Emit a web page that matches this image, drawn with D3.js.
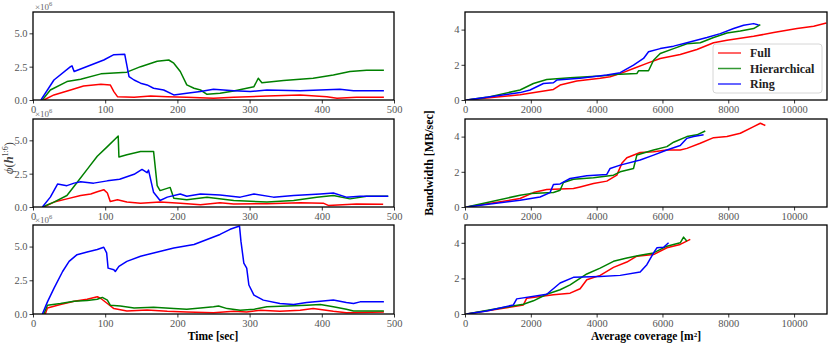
<!DOCTYPE html>
<html><head><meta charset="utf-8">
<script src="https://cdn.jsdelivr.net/npm/d3@7"></script>
<style>body{margin:0;background:#fff}svg{display:block}</style>
</head><body>
<svg id="c" width="831" height="343"></svg>
<script>
// ---------- DATA ----------
const seriesNames = ["Full", "Hierarchical", "Ring"];
const seriesColors = ["#ff0000", "#008000", "#0000ff"];
const timeTicks = [0, 100, 200, 300, 400, 500];
const phiTicks = [0, 2.5, 5.0];
const covTicks = [0, 2000, 4000, 6000, 8000, 10000];
const bwTicks = [0, 2, 4];

// Left column: phi (x10^6) vs time [sec]  -- [t, value]
const phi1Full = [[15,0],[29,0.38],[52,0.75],[70,1.05],[94,1.18],[107,1.13],[112,0.63],[117,0.25],[140,0.2],[163,0.3],[186,0.25],[213,0.2],[250,0.13],[278,0.2],[324,0.3],[370,0.38],[407,0.25],[421,0.13],[448,0.2],[486,0.2]];
const phi1Hier = [[13,0],[24,0.75],[47,1.38],[66,1.56],[94,1.96],[130,2.09],[149,2.5],[172,2.9],[188,3.0],[195,2.76],[204,2.14],[213,1.13],[223,0.88],[232,0.75],[241,0.43],[259,0.5],[278,0.68],[296,0.88],[306,1.0],[312,1.63],[317,1.3],[347,1.46],[388,1.63],[416,1.88],[439,2.14],[462,2.24],[486,2.24]];
const phi1Ring = [[11,0],[29,1.5],[52,2.5],[54,2.56],[57,2.14],[98,3.0],[112,3.4],[127,3.44],[133,1.76],[140,1.5],[149,1.26],[158,1.13],[167,0.88],[181,0.75],[195,0.38],[213,0.5],[232,0.63],[250,0.8],[278,0.7],[301,0.63],[324,0.75],[370,0.7],[425,0.8],[444,0.7],[486,0.7]];

const phi2Full = [[15,0],[29,0.37],[47,0.61],[66,0.86],[80,0.98],[89,1.15],[98,1.3],[103,1.05],[107,0.42],[117,0.54],[130,0.37],[149,0.29],[176,0.37],[204,0.29],[232,0.17],[259,0.32],[278,0.22],[324,0.25],[370,0.32],[402,0.29],[409,0.12],[448,0.22],[485,0.2]];
const phi2Hier = [[13,0],[29,0.37],[47,0.86],[61,1.84],[75,2.82],[89,3.8],[103,4.53],[117,5.27],[118,5.32],[119,3.75],[130,3.92],[149,4.17],[167,4.17],[172,1.6],[176,1.23],[190,1.47],[195,0.66],[213,0.54],[241,0.74],[278,0.49],[324,0.37],[361,0.49],[393,0.74],[416,0.86],[439,0.61],[462,0.81],[492,0.81]];
const phi2Ring = [[13,0],[24,0.74],[34,1.72],[47,1.6],[57,1.79],[66,1.89],[84,1.79],[103,1.96],[120,2.08],[140,2.45],[151,2.82],[158,2.57],[160,2.77],[167,1.1],[176,0.49],[186,0.74],[204,0.98],[213,0.81],[232,0.98],[259,0.9],[287,0.74],[306,0.98],[333,0.74],[361,0.86],[398,0.98],[416,1.05],[434,0.74],[453,0.81],[492,0.81]];

const phi3Full = [[17,0],[20,0.45],[38,0.7],[57,0.95],[75,1.1],[89,1.28],[94,1.15],[103,0.78],[112,0.4],[130,0.23],[158,0.3],[186,0.2],[213,0.15],[250,0.1],[278,0.2],[296,0.15],[315,0.28],[342,0.2],[370,0.28],[388,0.4],[416,0.2],[434,0.1],[486,0.15]];
const phi3Hier = [[15,0],[20,0.65],[38,0.78],[57,0.95],[75,1.0],[89,1.1],[96,1.23],[103,1.03],[107,0.65],[121,0.6],[140,0.45],[167,0.5],[195,0.4],[213,0.35],[232,0.45],[250,0.53],[257,0.6],[269,0.4],[287,0.28],[306,0.35],[324,0.53],[352,0.6],[379,0.65],[398,0.7],[416,0.53],[434,0.35],[444,0.23],[486,0.23]];
const phi3Ring = [[13,0],[20,0.9],[29,1.9],[41,3.15],[50,3.9],[61,4.4],[75,4.6],[89,4.78],[98,4.95],[102,4.53],[104,3.4],[112,3.28],[114,3.15],[119,3.53],[130,3.9],[149,4.28],[167,4.53],[195,4.9],[223,5.15],[241,5.53],[259,5.9],[273,6.28],[282,6.45],[286,6.53],[288,5.4],[292,3.78],[296,3.4],[299,2.15],[306,1.4],[319,1.03],[342,0.78],[361,0.7],[379,0.85],[398,0.95],[416,1.03],[434,0.85],[444,0.78],[453,0.9],[486,0.9]];

// Right column: bandwidth [MB/sec] vs average coverage [m^2] -- [coverage, bw]
const bw1Full = [[50,0],[1673,0.3],[2687,0.6],[2890,0.85],[3397,1.08],[4107,1.23],[4410,1.32],[4715,1.5],[5120,1.79],[5526,2.08],[5932,2.36],[6540,2.58],[7047,2.87],[7554,3.25],[7960,3.4],[8771,3.62],[9380,3.83],[10090,4.06],[10596,4.19],[10981,4.38]];
const bw1Hier = [[50,0],[659,0.15],[1673,0.57],[2079,0.94],[2484,1.17],[3194,1.26],[4107,1.36],[4715,1.47],[5222,1.5],[5273,1.66],[5577,1.66],[5729,2.26],[5932,2.64],[6338,2.92],[6743,3.2],[7149,3.25],[7554,3.55],[7960,3.81],[8366,3.92],[8771,4.06],[8974,4.28]];
const bw1Ring = [[50,0],[659,0.15],[1673,0.42],[1977,0.57],[2383,0.94],[2687,0.98],[2789,1.13],[3498,1.23],[4309,1.42],[4715,1.55],[5120,1.98],[5425,2.36],[5577,2.74],[5932,2.92],[6338,3.06],[6743,3.25],[7352,3.55],[7757,3.77],[8163,4.06],[8467,4.25],[8771,4.34],[8923,4.26]];

const bw2Full = [[50,0],[1673,0.48],[2079,0.82],[2484,0.99],[3295,1.05],[3498,1.14],[3904,1.33],[4309,1.47],[4614,1.81],[4766,2.48],[4918,2.8],[5323,3.1],[5729,3.14],[6135,3.24],[6540,3.24],[6743,3.33],[7149,3.62],[7554,3.94],[7960,4.0],[8366,4.19],[8771,4.57],[8974,4.76],[9126,4.63]];
const bw2Hier = [[50,0],[1673,0.67],[1977,0.76],[2687,0.82],[2890,0.95],[2991,1.39],[3295,1.58],[3904,1.66],[4512,1.81],[4715,2.0],[5120,2.19],[5222,2.95],[5729,3.24],[6135,3.43],[6338,3.68],[6743,4.0],[7047,4.1],[7301,4.32]];
const bw2Ring = [[50,0],[1673,0.38],[2281,0.57],[2585,0.82],[2687,1.28],[2890,1.31],[3194,1.62],[3701,1.77],[4309,1.85],[4410,2.19],[4715,2.38],[5323,2.67],[5729,2.95],[6135,3.24],[6540,3.49],[6743,3.9],[6946,4.0],[7250,4.1]];

const bw3Full = [[50,0],[1166,0.32],[1775,0.51],[1876,0.89],[2687,1.08],[3194,1.17],[3498,1.42],[3701,1.92],[4107,2.17],[4512,2.62],[4918,2.92],[5222,3.25],[5729,3.34],[6135,3.72],[6540,3.91],[6845,4.19]];
const bw3Hier = [[50,0],[1166,0.36],[1775,0.55],[2079,0.74],[2484,1.11],[2890,1.36],[3194,1.64],[3701,2.25],[4107,2.58],[4512,2.96],[4918,3.15],[5323,3.3],[5729,3.43],[6135,3.81],[6540,4.0],[6642,4.32],[6743,4.09]];
const bw3Ring = [[50,0],[659,0.17],[1470,0.51],[1572,0.85],[2484,1.11],[2890,1.74],[3295,2.06],[4107,2.11],[4715,2.17],[5323,2.36],[5526,2.77],[5729,3.43],[5831,3.72],[6034,3.75],[6186,4.0]];

// ---------- LAYOUT ----------
const svg = d3.select("#c");
const FONT = "'Liberation Serif','Times New Roman',serif";
const rows = [{top: 12, bottom: 100}, {top: 119, bottom: 207}, {top: 225, bottom: 314}];
const leftX = [33, 394], rightX = [465, 827];

const leftData = [[phi1Full, phi1Hier, phi1Ring],[phi2Full, phi2Hier, phi2Ring],[phi3Full, phi3Hier, phi3Ring]];
const rightData = [[bw1Full, bw1Hier, bw1Ring],[bw2Full, bw2Hier, bw2Ring],[bw3Full, bw3Hier, bw3Ring]];

function panel(xr, row, xDomain, yDomain, xTicks, yTicks, yFmt, series, clipId) {
  const x = d3.scaleLinear().domain(xDomain).range(xr);
  const y = d3.scaleLinear().domain(yDomain).range([row.bottom, row.top]);
  const g = svg.append("g");
  g.append("clipPath").attr("id", clipId).append("rect")
    .attr("x", xr[0]).attr("y", row.top).attr("width", xr[1]-xr[0]).attr("height", row.bottom-row.top);
  const line = d3.line().x(d => x(d[0])).y(d => y(d[1]));
  series.forEach((s, i) => {
    g.append("path").datum(s).attr("d", line).attr("fill", "none")
      .attr("stroke", seriesColors[i]).attr("stroke-width", 1.5)
      .attr("stroke-linejoin", "round").attr("clip-path", `url(#${clipId})`);
  });
  const xa = g.append("g").attr("transform", `translate(0,${row.bottom})`)
    .call(d3.axisBottom(x).tickValues(xTicks).tickFormat(d3.format("d")).tickSize(3.5).tickPadding(2));
  const ya = g.append("g").attr("transform", `translate(${xr[0]},0)`)
    .call(d3.axisLeft(y).tickValues(yTicks).tickFormat(yFmt).tickSize(3.5).tickPadding(2));
  [xa, ya].forEach(a => {
    a.select(".domain").remove();
    a.selectAll("line").attr("stroke", "#000").attr("stroke-width", 0.8);
    a.selectAll("text").attr("font-family", FONT).attr("font-size", 10.5).attr("fill", "#555");
  });
  g.append("rect").attr("x", xr[0]).attr("y", row.top).attr("width", xr[1]-xr[0])
    .attr("height", row.bottom-row.top).attr("fill", "none").attr("stroke", "#000").attr("stroke-width", 1.3);
  return g;
}

rows.forEach((row, i) => {
  panel(leftX, row, [0, 500], [0, 6.6], timeTicks, phiTicks, d3.format(".1f"), leftData[i], "cl" + i);
  const t = svg.append("text").attr("x", leftX[0] + 2).attr("y", row.top - 2)
    .attr("font-family", FONT).attr("font-size", 9).attr("fill", "#666");
  t.append("tspan").text("×10");
  t.append("tspan").attr("font-size", 6.5).attr("dy", -4).text("6");
  panel(rightX, row, [0, 11000], [0, 5], covTicks, bwTicks, d3.format("d"), rightData[i], "cr" + i);
});

// axis labels
svg.append("text").attr("x", 213).attr("y", 339.5).attr("text-anchor", "middle")
  .attr("font-family", FONT).attr("font-size", 11.5).attr("font-weight", "bold").text("Time [sec]");
const xl = svg.append("text").attr("x", 646).attr("y", 339.5).attr("text-anchor", "middle")
  .attr("font-family", FONT).attr("font-size", 11.5).attr("font-weight", "bold");
xl.append("tspan").text("Average coverage [m");
xl.append("tspan").attr("font-size", 7).attr("dy", -3).text("2");
xl.append("tspan").attr("dy", 3).text("]");

const yl = svg.append("text").attr("transform", "translate(13,158) rotate(-90)").attr("text-anchor", "middle")
  .attr("font-family", FONT).attr("font-size", 12.5).attr("fill", "#444");
yl.append("tspan").attr("font-style", "italic").text("ϕ");
yl.append("tspan").text("(");
yl.append("tspan").attr("font-weight", "bold").attr("font-style", "italic").text("h");
yl.append("tspan").attr("font-size", 8).attr("dy", -5).text("1:6");
yl.append("tspan").attr("dy", 5).text(")");

svg.append("text").attr("transform", "translate(433,163) rotate(-90)").attr("text-anchor", "middle")
  .attr("font-family", FONT).attr("font-size", 12).attr("font-weight", "bold").text("Bandwidth [MB/sec]");

// legend
const lg = svg.append("g");
lg.append("rect").attr("x", 713).attr("y", 44).attr("width", 109).attr("height", 49)
  .attr("rx", 3).attr("fill", "#fff").attr("fill-opacity", 0.85).attr("stroke", "#ccc").attr("stroke-width", 0.8);
seriesNames.forEach((n, i) => {
  const yy = 53 + i * 15.5;
  lg.append("line").attr("x1", 718).attr("x2", 741).attr("y1", yy).attr("y2", yy)
    .attr("stroke", seriesColors[i]).attr("stroke-width", 1.5).attr("stroke-opacity", 0.8);
  lg.append("text").attr("x", 750).attr("y", yy + 4).attr("font-family", FONT).attr("font-size", 12)
    .attr("font-weight", "bold").attr("fill", "#222").text(n);
});
</script>
</body></html>
